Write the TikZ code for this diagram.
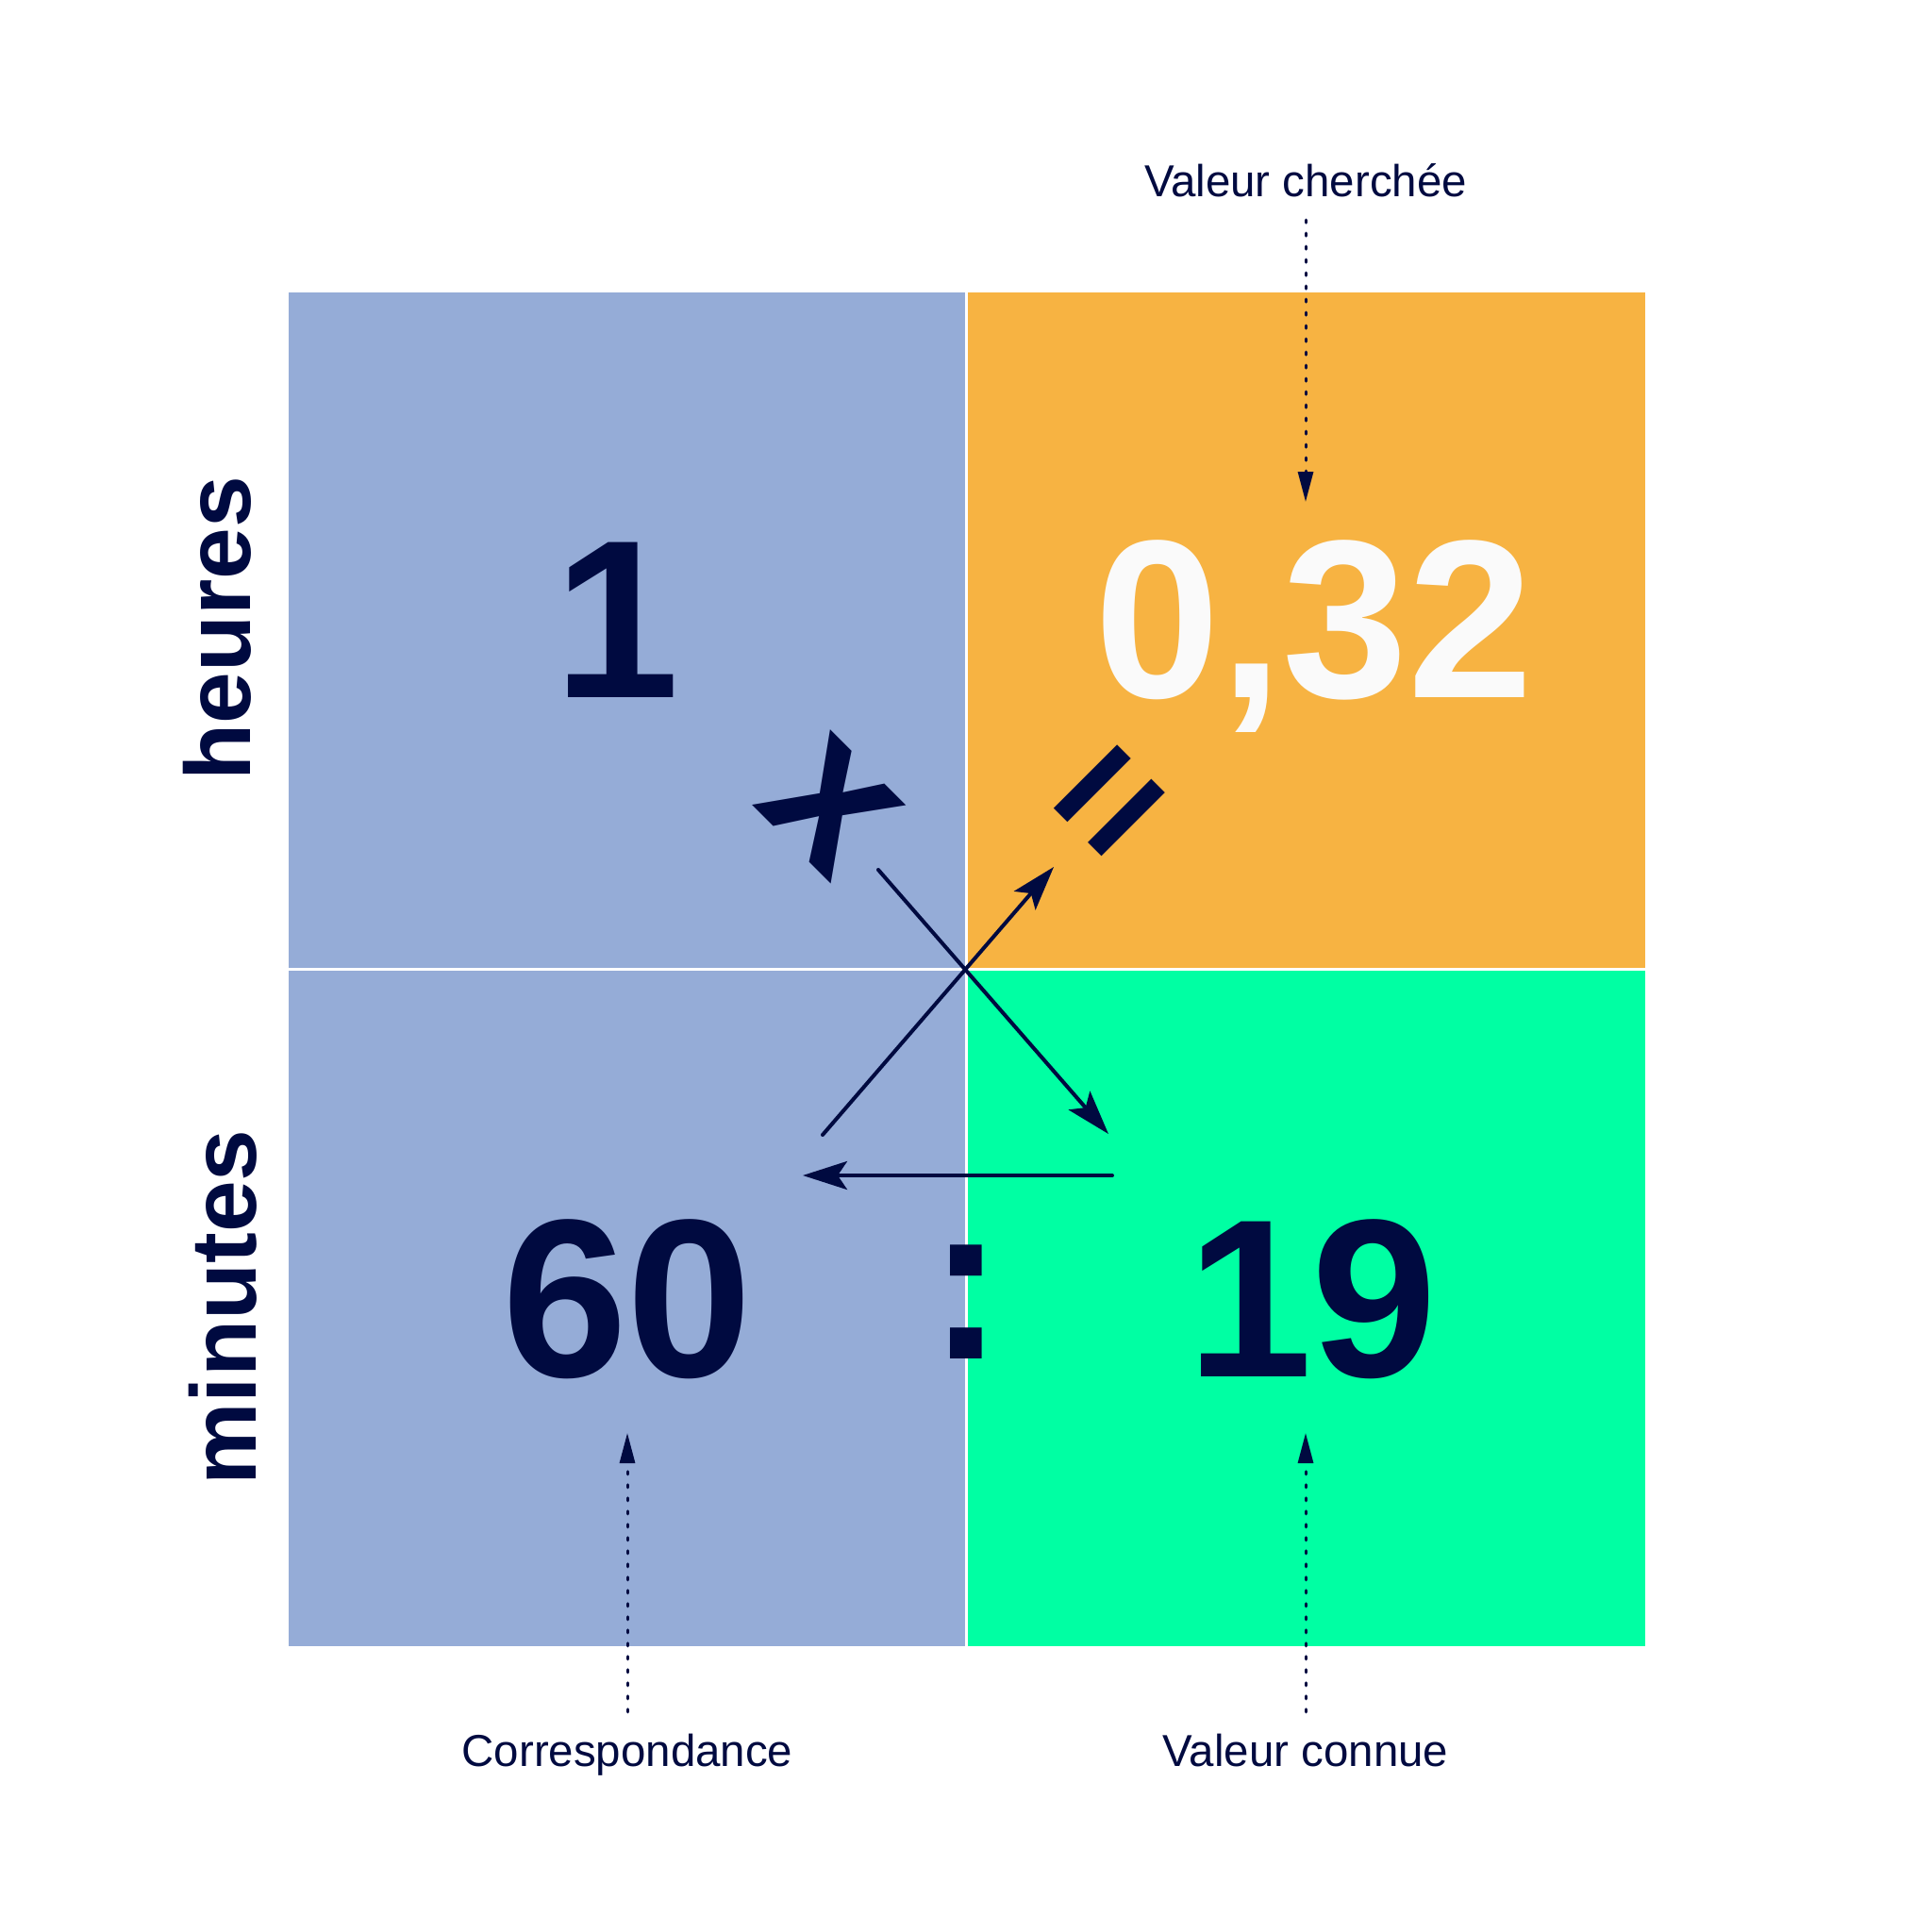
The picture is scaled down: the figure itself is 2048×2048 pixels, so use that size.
\documentclass[tikz,border=0pt]{standalone}
\usepackage{fontspec}
\setmainfont{Liberation Sans}
\usetikzlibrary{arrows.meta}

\definecolor{marine}{HTML}{000A40}
\definecolor{bleu}{HTML}{95ACD7}
\definecolor{jaune}{HTML}{F7B342}
\definecolor{vert}{HTML}{00FFA3}
\definecolor{blanc}{HTML}{FAFAFA}

\begin{document}
\begin{tikzpicture}[x=0.1mm,y=-0.1mm,
  case/.style={rectangle,draw=white,line width=0.3mm,minimum width=72.1mm,minimum height=71.9mm},
  nombre/.style={anchor=base,text=marine,font=\fontsize{68}{82}\selectfont\bfseries},
  signe/.style={anchor=center,inner sep=0pt,text=marine},
  legende/.style={text=marine,inner sep=0pt,font=\fontsize{13.5}{16}\selectfont},
  grandeur/.style={text=marine,rotate=90,font=\fontsize{28}{34}\selectfont\bfseries},
  fleche/.style={marine,line width=0.4mm,line cap=round,-{Stealth[length=4.7mm,width=3mm,inset=1mm]}},
  pointille/.style={marine,line width=0.3mm,line cap=round,dash pattern=on 0.3mm off 1.1mm,-{Triangle[length=3.2mm,width=1.6mm]}}]
\useasboundingbox[fill=white] (0,0) rectangle (2048,2048);

  % cases du tableau
  \node[case,fill=bleu] (hg) at (664.5,667.5) {};
  \node[case,fill=jaune] (hd) at (1385,667.5) {};
  \node[case,fill=bleu] (bg) at (664.5,1387) {};
  \node[case,fill=vert] (bd) at (1385,1387) {};

  % grandeurs
  \node[grandeur] (heures) at (230,666) {heures};
  \node[grandeur] (minutes) at (236,1386) {minutes};

  % valeurs
  \node[nombre] (un) at (654,739) {1};
  \node[nombre,text=blanc] (inconnue) at (1393,739) {0,32};
  \node[nombre] (soixante) at (665,1459) {60};
  \node[nombre] (dixneuf) at (1391,1459) {19};
  \node[nombre] (divise) at (1024,1440) {:};
  \node[signe,rotate=-45,font=\fontsize{62}{74}\selectfont\bfseries] (fois) at (880,855) {x};
  \node[signe,rotate=45,font=\fontsize{54}{64}\selectfont\bfseries] (egal) at (1186,858) {=};

  % legendes
  \node[legende,anchor=base] (cherchee) at (1384,209) {Valeur cherchée};
  \node[legende,anchor=base] (corresp) at (665,1872) {Correspondance};
  \node[legende,anchor=base] (connue) at (1384,1872) {Valeur connue};

  \coordinate (pc) at (1384,532);
  \coordinate (pg) at (665,1519);
  \coordinate (pd) at (1384,1519);
  \draw[pointille,shorten <=2.3mm] (cherchee.south) -- (pc);
  \draw[pointille,shorten <=2.2mm] (corresp.north) -- (pg);
  \draw[pointille,shorten <=2.2mm] (connue.north) -- (pd);

  % produit en croix
  \coordinate (d1) at (931,922);
  \coordinate (f1) at (1175,1202);
  \coordinate (d2) at (872,1203);
  \coordinate (f2) at (1117,919);
  \coordinate (d3) at (1179,1246);
  \coordinate (f3) at (851,1246);
  \draw[fleche] (d1) -- (f1);
  \draw[fleche] (d2) -- (f2);
  \draw[fleche] (d3) -- (f3);

\end{tikzpicture}
\end{document}
